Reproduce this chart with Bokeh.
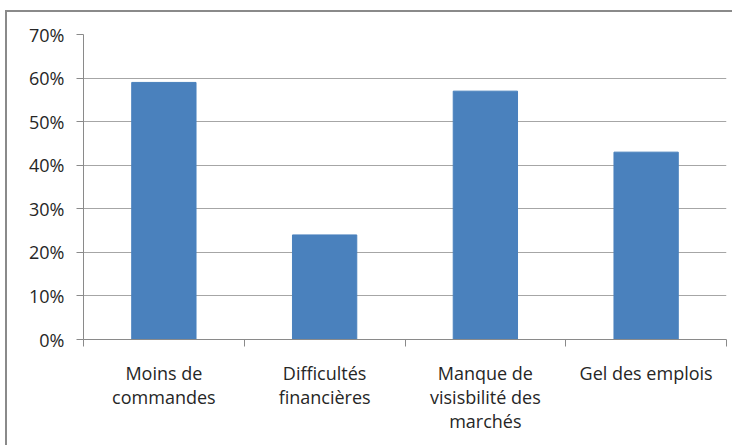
from bokeh.plotting import figure
from bokeh.models import ColumnDataSource, FixedTicker, NumeralTickFormatter, Range1d
from bokeh.embed import file_html
from bokeh.resources import INLINE

categories = ["Moins de\ncommandes", "Difficultés\nfinancières",
              "Manque de\nvisisbilité des\nmarchés", "Gel des emplois"]
values = [0.59, 0.24, 0.57, 0.43]
y_ticks = [0.0, 0.1, 0.2, 0.3, 0.4, 0.5, 0.6, 0.7]

xs = [i + 0.5 for i in range(len(categories))]
src = ColumnDataSource(dict(x=xs, top=values))

p = figure(width=727, height=435, output_backend="svg", toolbar_location=None,
           x_range=Range1d(0, len(categories)), y_range=Range1d(0, 0.7))
p.styles = {"border-left": "2px solid #8a8a8a", "border-top": "2px solid #8a8a8a",
            "margin-left": "5px", "margin-top": "10px"}
p.min_border_left = 76
p.min_border_right = 8
p.min_border_top = 22
p.min_border_bottom = 108
p.outline_line_color = None
p.background_fill_color = "white"
p.border_fill_color = "white"

p.vbar(x="x", top="top", width=0.4, source=src, fill_color="#4A81BD",
       line_color="#4A81BD")

font = "Open Sans"
p.xaxis.ticker = FixedTicker(ticks=xs, minor_ticks=list(range(len(categories) + 1)))
p.xaxis.major_label_overrides = {x: c for x, c in zip(xs, categories)}
p.xaxis.major_tick_out = 0
p.xaxis.major_tick_in = 0
p.xaxis.minor_tick_in = 0
p.xaxis.minor_tick_out = 7
p.xaxis.minor_tick_line_color = "#8a8a8a"
p.xaxis.axis_line_color = "#8a8a8a"
p.xaxis.major_label_standoff = 14
p.xaxis.major_label_text_font = font
p.xaxis.major_label_text_font_size = "18px"
p.xaxis.major_label_text_color = "#262626"
p.xaxis.major_label_text_line_height = 1.0

p.yaxis.ticker = FixedTicker(ticks=y_ticks)
p.yaxis.formatter = NumeralTickFormatter(format="0%")
p.yaxis.major_tick_out = 7
p.yaxis.major_tick_in = 0
p.yaxis.minor_tick_line_color = None
p.yaxis.major_tick_line_color = "#8a8a8a"
p.yaxis.axis_line_color = "#8a8a8a"
p.yaxis.major_label_standoff = 12
p.yaxis.major_label_text_font = font
p.yaxis.major_label_text_font_size = "18px"
p.yaxis.major_label_text_color = "#262626"

p.xgrid.grid_line_color = None
p.ygrid.ticker = FixedTicker(ticks=y_ticks)
p.ygrid.grid_line_color = "#a6a6a6"
p.ygrid.grid_line_width = 1

open("out.html", "w").write(file_html(p, INLINE))
